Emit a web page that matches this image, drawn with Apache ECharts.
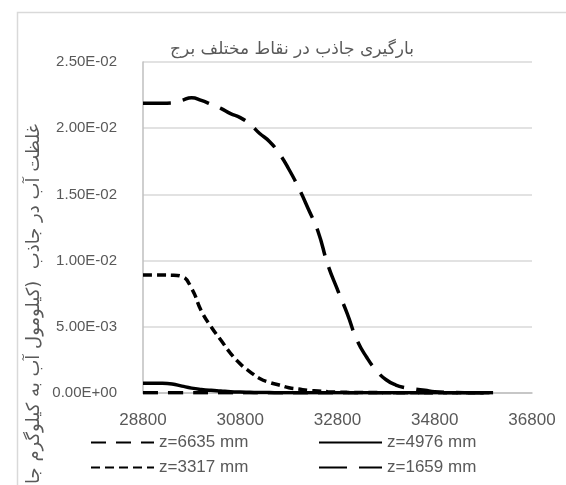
<!DOCTYPE html>
<html>
<head>
<meta charset="utf-8">
<script src="https://cdn.jsdelivr.net/npm/echarts@6/dist/echarts.min.js"></script>
<style>
html, body { margin: 0; padding: 0; background: #fff; }
#chart { width: 566px; height: 485px; }
</style>
</head>
<body>
<div id="chart"></div>
<script>
// داده ها
var xValues = [28800, 29000, 29200, 29400, 29600, 29800, 30000, 30200, 30400, 30600,
  30800, 31000, 31200, 31400, 31600, 31800, 32000, 32200, 32400, 32600,
  32800, 33000, 33200, 33400, 33600, 33800, 34000, 34200, 34400, 34600,
  34800, 35200, 35600, 36000];
var z6635 = [0.00002, 0.00002, 0.00002, 0.00002, 0.00002, 0.00002, 0.00002, 0.00002, 0.00002, 0.00002,
  0.00002, 0.00002, 0.00002, 0.00002, 0.00002, 0.00002, 0.00002, 0.00002, 0.00002, 0.00002,
  0.00002, 0.00002, 0.00002, 0.00002, 0.00002, 0.00002, 0.00002, 0.00002, 0.00002, 0.00002,
  0.00002, 0.00002, 0.00002, 0.00002];
var z4976 = [0.00073, 0.00073, 0.00073, 0.00068, 0.00052, 0.00037, 0.00027, 0.0002, 0.00015, 0.0001,
  0.00007, 0.00005, 0.00003, 0.00003, 0.00002, 0.00002, 0.00002, 0.00001, 0.00001, 0.00001,
  0.00001, 0.00001, 0.00001, 0.00001, 0.00001, 0.00001, 0.00001, 0.00001, 0.00001, 0.00001,
  0.00001, 0.00001, 0.00001, 0.00001];
var z3317 = [0.00891, 0.00891, 0.00891, 0.0089, 0.0088, 0.0079, 0.0062, 0.005, 0.004, 0.003,
  0.0022, 0.0016, 0.0011, 0.0008, 0.0006, 0.0004, 0.0003, 0.0002, 0.00015, 0.0001,
  0.00007, 0.00005, 0.00004, 0.00003, 0.00003, 0.00002, 0.00002, 0.00002, 0.00002, 0.00001,
  0.00001, 0.00001, 0.00001, 0.00001];
var z1659 = [0.02188, 0.02188, 0.02188, 0.0219, 0.0221, 0.0223, 0.0221, 0.0218, 0.0215, 0.0211,
  0.0208, 0.0203, 0.0196, 0.019, 0.0181, 0.0169, 0.0155, 0.0139, 0.0122, 0.0097,
  0.0078, 0.006, 0.004, 0.0027, 0.0017, 0.001, 0.0006, 0.0004, 0.0003, 0.0002,
  0.0001, 0.00005, 0.00002, 0.00001];
var seriesNames = ['z=6635 mm', 'z=4976 mm', 'z=3317 mm', 'z=1659 mm'];
var titleText = 'بارگیری جاذب در نقاط مختلف برج';
var yTitle = 'غلظت آب در جاذب  (کیلومول آب به کیلوگرم جاذب)';

var textColor = '#595959';
var gridColor = '#d9d9d9';

function pairs(ys) {
  var out = [];
  for (var i = 0; i < xValues.length; i++) {
    out.push([xValues[i], ys[i]]);
  }
  return out;
}

// فرمت علمی مثل اکسل
function sciLabel(v) {
  if (v === 0) return '0.00E+00';
  var e = Math.floor(Math.log10(Math.abs(v)) + 1e-9);
  var m = v / Math.pow(10, e);
  var sign = e < 0 ? '-' : '+';
  var ae = Math.abs(e);
  return m.toFixed(2) + 'E' + sign + (ae < 10 ? '0' + ae : ae);
}

function lineSeries(name, ys, dash) {
  return {
    name: name,
    type: 'line',
    smooth: true,
    showSymbol: false,
    symbol: 'none',
    lineStyle: { color: '#000', width: 3.5, type: dash, cap: 'butt' },
    itemStyle: { color: '#000' },
    data: pairs(ys)
  };
}

function legendAt(name, left, top) {
  return {
    data: [name],
    left: left,
    top: top,
    itemWidth: 63,
    itemHeight: 14,
    selectedMode: false,
    itemStyle: { color: 'transparent', borderWidth: 0, opacity: 0 },
    textStyle: { color: textColor, fontSize: 17, fontFamily: 'Liberation Sans' }
  };
}

var chart = echarts.init(document.getElementById('chart'), null, { renderer: 'canvas' });

var option = {
  backgroundColor: '#fff',
  animation: false,
  title: {
    text: titleText,
    left: 287,
    top: 36,
    textAlign: 'center',
    textStyle: { color: textColor, fontSize: 17, fontWeight: 'normal', fontFamily: 'DejaVu Sans' }
  },
  grid: { left: 143, right: 34, top: 62, bottom: 92 },
  legend: [
    legendAt(seriesNames[0], 85, 429),
    legendAt(seriesNames[1], 313, 429),
    legendAt(seriesNames[2], 85, 454),
    legendAt(seriesNames[3], 313, 454)
  ],
  xAxis: {
    type: 'value',
    min: 28800,
    max: 36800,
    interval: 2000,
    axisLine: { show: true, lineStyle: { color: '#bfbfbf', width: 1.5 } },
    axisTick: { show: false },
    splitLine: { show: false },
    axisLabel: {
      color: textColor, fontSize: 17, fontFamily: 'Liberation Sans', margin: 19,
      formatter: function (v) { return String(v); }
    }
  },
  yAxis: {
    type: 'value',
    min: 0,
    max: 0.025,
    interval: 0.005,
    axisLine: { show: true, lineStyle: { color: '#bfbfbf', width: 1.5 } },
    axisTick: { show: false },
    splitLine: { show: true, lineStyle: { color: gridColor, width: 1.5 } },
    axisLabel: { color: textColor, fontSize: 15, fontFamily: 'Liberation Sans', margin: 26, formatter: sciLabel }
  },
  graphic: [
    {
      type: 'rect',
      left: 15,
      top: 10,
      silent: true,
      shape: { width: 600, height: 500 },
      style: { fill: 'none', stroke: gridColor, lineWidth: 1.5 }
    },
    {
      type: 'text',
      x: 34,
      y: 124,
      rotation: Math.PI / 2,
      silent: true,
      style: {
        text: yTitle,
        fill: textColor,
        font: '18px "DejaVu Sans"',
        textAlign: 'right',
        textVerticalAlign: 'middle'
      }
    }
  ],
  series: [
    lineSeries(seriesNames[0], z6635, [15, 10]),
    lineSeries(seriesNames[1], z4976, 'solid'),
    lineSeries(seriesNames[2], z3317, [9, 5]),
    lineSeries(seriesNames[3], z1659, [28, 12])
  ]
};

chart.setOption(option);
</script>
</body>
</html>
